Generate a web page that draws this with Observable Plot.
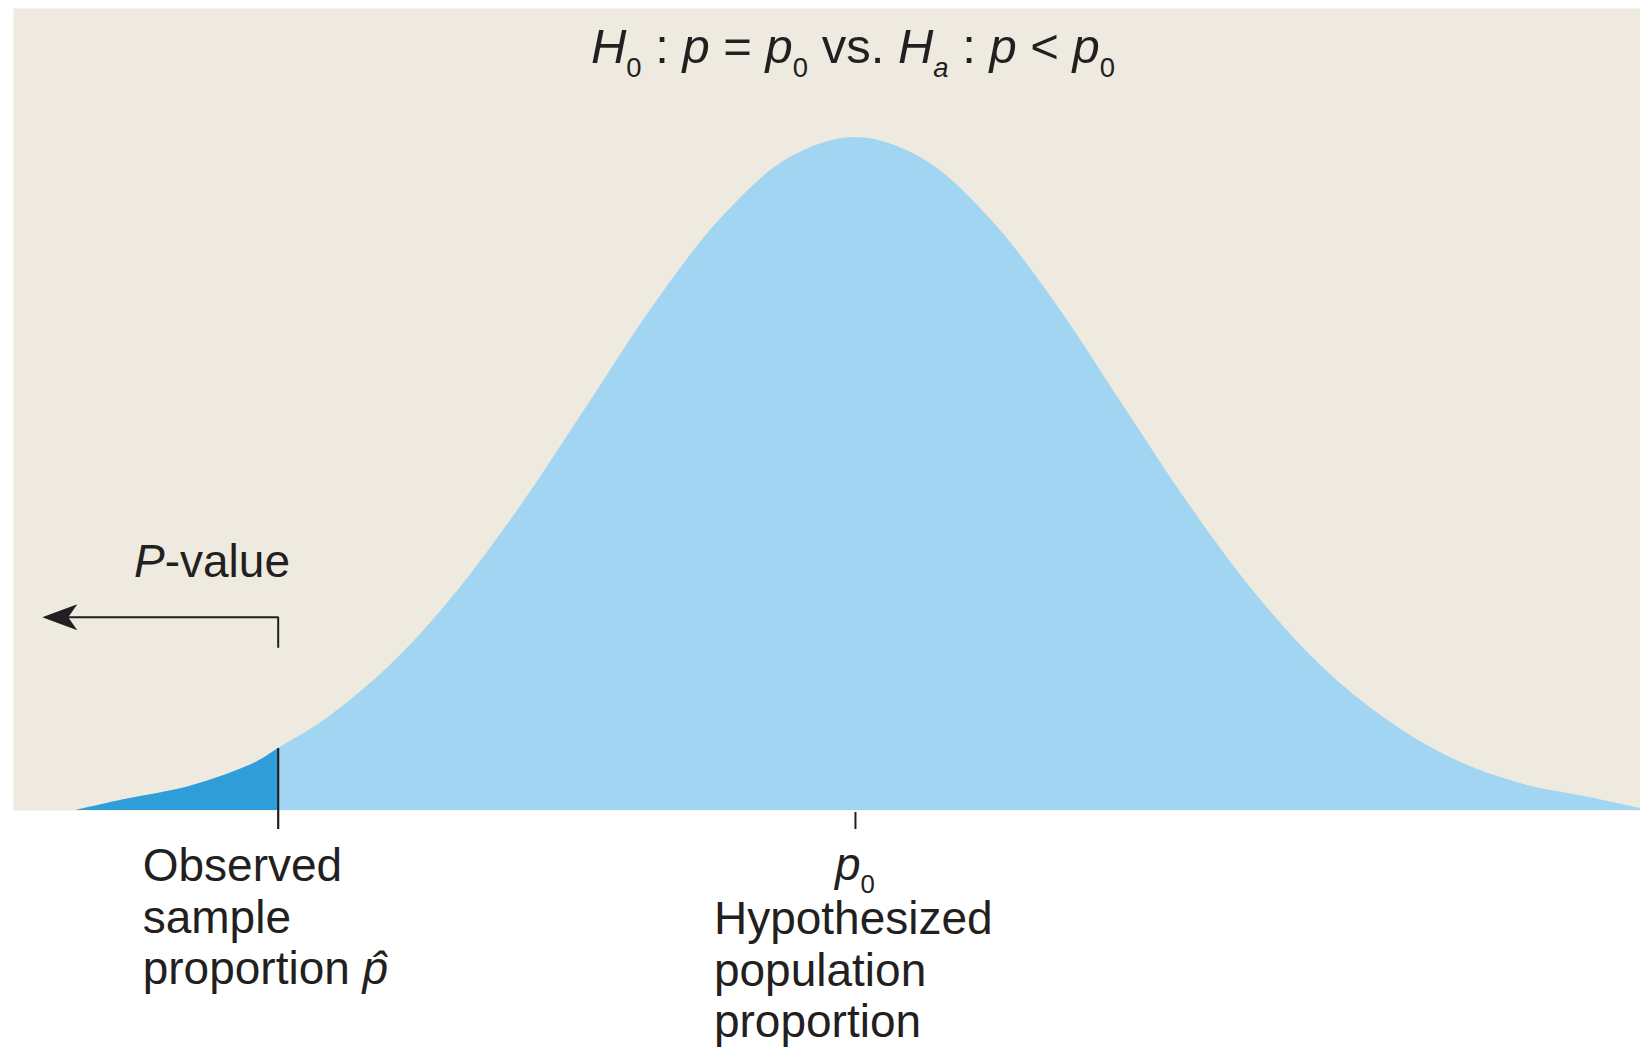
<!DOCTYPE html>
<html>
<head>
<meta charset="utf-8">
<script src="https://cdn.jsdelivr.net/npm/d3@7"></script>
<script src="https://cdn.jsdelivr.net/npm/@observablehq/plot@0.6"></script>
<style>
  html, body { margin: 0; padding: 0; background: #ffffff; }
  #chart svg text { font-family: "Liberation Sans", Arial, Helvetica, sans-serif; }
</style>
</head>
<body>
<div id="chart"></div>
<script>
// Sampling distribution of the sample proportion, in standard units (z) around p0,
// with curve heights relative to the peak.
const curveZ = [-2.93, -2.75, -2.5, -2.25, -2.17, -2.0, -1.75, -1.5, -1.25, -1.0, -0.75, -0.5, -0.25,
  0, 0.25, 0.5, 0.75, 1.0, 1.25, 1.5, 1.75, 2.0, 2.25, 2.5, 2.75, 2.95];
const curveHeight = [0, 0.016, 0.036, 0.072, 0.092, 0.133, 0.215, 0.324, 0.457, 0.606, 0.755, 0.882, 0.969,
  1, 0.969, 0.882, 0.755, 0.606, 0.457, 0.324, 0.215, 0.134, 0.076, 0.040, 0.020, 0.003];

// Observed sample proportion and hypothesized population proportion
const pHatZ = -2.17;
const p0Z = 0;

// Text
const titleParts = [
  {text: "H", italic: true}, {text: "0", sub: true}, {text: " : "},
  {text: "p", italic: true}, {text: " = "},
  {text: "p", italic: true}, {text: "0", sub: true}, {text: " vs. "},
  {text: "H", italic: true}, {text: "a", sub: true, italic: true}, {text: " : "},
  {text: "p", italic: true}, {text: " < "},
  {text: "p", italic: true}, {text: "0", sub: true}
];
const pValueParts = [{text: "P", italic: true}, {text: "-value"}];
const observedLines = ["Observed", "sample", "proportion "];
const pHatSymbol = "p\u0302";
const p0Parts = [{text: "p", italic: true}, {text: "0", sub: true}];
const hypothesizedLines = ["Hypothesized", "population", "proportion"];

// Colours
const panelColor = "#eeeadf";
const curveColor = "#a2d5f1";
const tailColor = "#2f9dd7";
const ink = "#231f20";

const curve = curveZ.map((z, i) => ({z, h: curveHeight[i]}));
const tail = curve.filter(d => d.z <= pHatZ);
const pHatHeight = curveHeight[curveZ.indexOf(pHatZ)];

// P-value bracket: rises from the observed value, then points left
const bracketLow = 0.242, bracketHigh = 0.287, arrowTipZ = -3.057;

// Filled, notched arrowhead pointing left, tip at the symbol origin
const arrowHead = {
  draw(ctx, size) {
    const r = Math.sqrt(size / Math.PI);
    ctx.moveTo(0, 0);
    ctx.lineTo(2.7 * r, -r);
    ctx.lineTo(2.0 * r, 0);
    ctx.lineTo(2.7 * r, r);
    ctx.closePath();
  }
};

const plot = Plot.plot({
  width: 1640,
  height: 1047,
  marginLeft: 13,
  marginRight: 0,
  marginTop: 8,
  marginBottom: 237,
  x: {domain: [-3.165, 2.951], axis: null},
  y: {domain: [0, 1.1917], axis: null},
  style: {background: "#ffffff", overflow: "visible"},
  marks: [
    Plot.frame({fill: panelColor, stroke: "none"}),
    Plot.areaY(curve, {x: "z", y: "h", fill: curveColor, curve: "catmull-rom"}),
    Plot.areaY(tail, {x: "z", y: "h", fill: tailColor, curve: "catmull-rom"}),
    Plot.ruleX([pHatZ], {y1: pHatHeight, y2: 0, stroke: ink, strokeWidth: 2.2, insetBottom: -19}),
    Plot.ruleX([p0Z], {y1: 0, y2: 0, stroke: ink, strokeWidth: 2, insetTop: 2, insetBottom: -19}),
    Plot.line(
      [{z: pHatZ, y: bracketLow}, {z: pHatZ, y: bracketHigh}, {z: arrowTipZ + 0.06, y: bracketHigh}],
      {x: "z", y: "y", stroke: ink, strokeWidth: 2, strokeLinejoin: "miter", strokeLinecap: "butt"}
    ),
    Plot.dot([{z: arrowTipZ, y: bracketHigh}], {x: "z", y: "y", symbol: arrowHead, r: 13, fill: ink, stroke: "none"})
  ]
});

document.getElementById("chart").appendChild(plot);

const sx = plot.scale("x"), sy = plot.scale("y");
const svg = d3.select(plot);

// Text with italic runs and subscripts
function richText(x, y, anchor, size, runs) {
  const t = svg.append("text")
    .attr("x", x).attr("y", y)
    .attr("text-anchor", anchor)
    .attr("font-size", size)
    .attr("fill", ink);
  let shift = 0;
  for (const r of runs) {
    const s = t.append("tspan").text(r.text);
    const target = r.sub ? size * 0.29 : 0;
    if (target !== shift) { s.attr("dy", target - shift); shift = target; }
    if (r.sub) s.attr("font-size", size * 0.56);
    if (r.italic) s.attr("font-style", "italic");
  }
  return t;
}

const base = sy.apply(0);
const lineH = 51.5;

// Hypotheses
richText(sx.apply(p0Z) - 2, 63, "middle", 49, titleParts);

// P-value label
richText(134, sy.apply(bracketHigh) - 40, "start", 46, pValueParts);

// Observed sample proportion label
observedLines.forEach((line, i) => {
  const runs = [{text: line}];
  if (i === observedLines.length - 1) runs.push({text: pHatSymbol, italic: true});
  richText(sx.apply(pHatZ) - 135, base + 71 + i * lineH, "start", 46, runs);
});

// Hypothesized population proportion label
richText(sx.apply(p0Z), base + 70, "middle", 46, p0Parts);
hypothesizedLines.forEach((line, i) => {
  richText(sx.apply(p0Z) - 141, base + 124 + i * lineH, "start", 46, [{text: line}]);
});
</script>
</body>
</html>
